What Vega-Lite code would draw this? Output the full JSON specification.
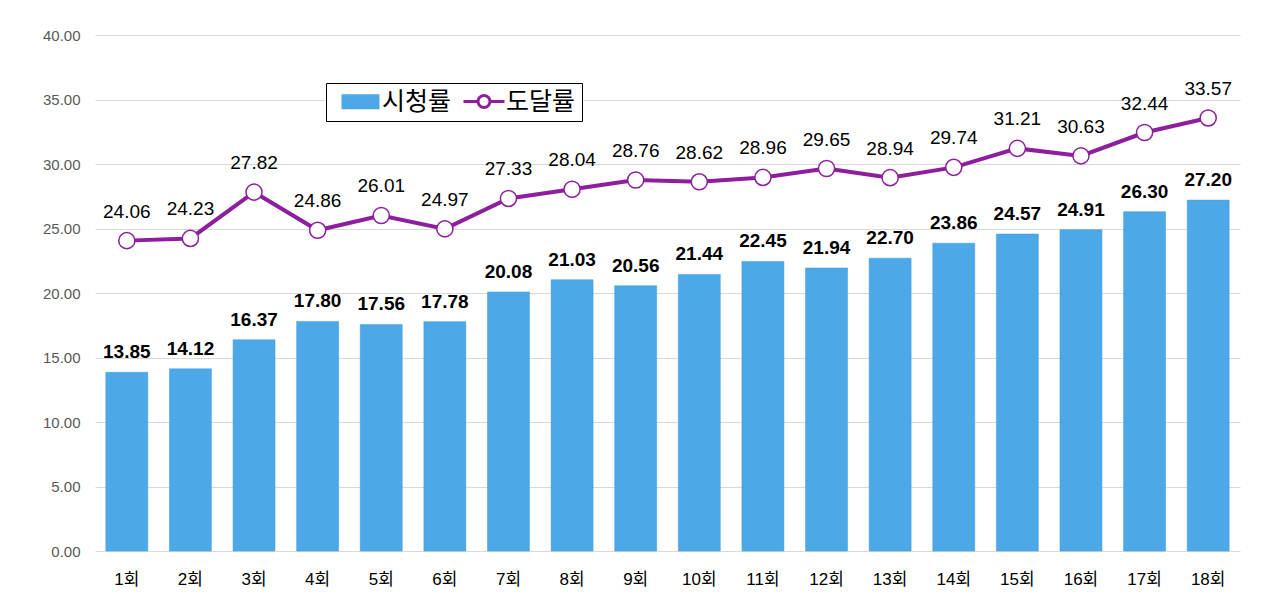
{
  "$schema": "https://vega.github.io/schema/vega-lite/v6.json",
  "autosize": {"type": "none"},
  "width": 1145,
  "height": 516,
  "padding": {"left": 95, "top": 35, "right": 40, "bottom": 65},
  "background": "white",
  "config": {
    "view": {"stroke": null},
    "font": "Liberation Sans, Noto Sans CJK KR",
    "axis": {"domain": false, "ticks": false}
  },
  "data": {
    "values": [
      {"round": "1회", "view": 13.85, "reach": 24.06},
      {"round": "2회", "view": 14.12, "reach": 24.23},
      {"round": "3회", "view": 16.37, "reach": 27.82},
      {"round": "4회", "view": 17.80, "reach": 24.86},
      {"round": "5회", "view": 17.56, "reach": 26.01},
      {"round": "6회", "view": 17.78, "reach": 24.97},
      {"round": "7회", "view": 20.08, "reach": 27.33},
      {"round": "8회", "view": 21.03, "reach": 28.04},
      {"round": "9회", "view": 20.56, "reach": 28.76},
      {"round": "10회", "view": 21.44, "reach": 28.62},
      {"round": "11회", "view": 22.45, "reach": 28.96},
      {"round": "12회", "view": 21.94, "reach": 29.65},
      {"round": "13회", "view": 22.70, "reach": 28.94},
      {"round": "14회", "view": 23.86, "reach": 29.74},
      {"round": "15회", "view": 24.57, "reach": 31.21},
      {"round": "16회", "view": 24.91, "reach": 30.63},
      {"round": "17회", "view": 26.30, "reach": 32.44},
      {"round": "18회", "view": 27.20, "reach": 33.57}
    ]
  },
  "encoding": {
    "x": {
      "field": "round",
      "type": "ordinal",
      "sort": null,
      "title": null,
      "scale": {"paddingInner": 0.34, "paddingOuter": 0.17},
      "axis": {"labelAngle": 0, "labelFontSize": 17, "labelColor": "#000000", "labelPadding": 20, "grid": false}
    }
  },
  "layer": [
    {
      "mark": {"type": "bar", "stroke": "#3F9AE0", "strokeWidth": 0.5},
      "encoding": {
        "y": {
          "field": "view",
          "type": "quantitative",
          "title": null,
          "scale": {"domain": [0, 40]},
          "axis": {
            "values": [0, 5, 10, 15, 20, 25, 30, 35, 40],
            "format": ".2f",
            "labelFontSize": 15,
            "labelColor": "#595959",
            "labelPadding": 15,
            "gridColor": "#D9D9D9",
            "gridWidth": 1.2
          }
        },
        "fill": {
          "datum": "시청률",
          "scale": {"domain": ["시청률", "도달률"], "range": ["#4DA8E8", "#FFFFFF"]},
          "legend": {
            "title": null,
            "orient": "none",
            "direction": "horizontal",
            "legendX": 231,
            "legendY": 48,
            "strokeColor": "#000000",
            "fillColor": "#FFFFFF",
            "padding": 6,
            "columnPadding": 4,
            "labelFont": "Noto Sans CJK KR",
            "labelFontSize": 25,
            "labelColor": "#000000",
            "labelOffset": 25,
            "symbolSize": 400,
            "symbolType": "M-0.3,-0.75H3.5V0.75H-0.3Z",
            "symbolStrokeWidth": 0
          }
        }
      }
    },
    {
      "mark": {"type": "text", "baseline": "alphabetic", "dy": -14, "fontSize": 19, "fontWeight": "bold", "color": "#000000"},
      "encoding": {
        "y": {"field": "view", "type": "quantitative"},
        "text": {"field": "view", "type": "quantitative", "format": ".2f"}
      }
    },
    {
      "mark": {"type": "line", "strokeWidth": 4},
      "encoding": {
        "y": {"field": "reach", "type": "quantitative"},
        "stroke": {
          "datum": "도달률",
          "scale": {"range": ["#8E1E9E"]},
          "legend": {
            "title": null,
            "orient": "none",
            "legendX": 351,
            "legendY": 48,
            "strokeColor": null,
            "padding": 6,
            "labelFont": "Noto Sans CJK KR",
            "labelFontSize": 25,
            "labelExpr": "''",
            "labelOffset": 25,
            "symbolSize": 400,
            "symbolType": "M-0.1,0H1.35M2.55,0H4M2.55,0A0.6,0.6 0 1,1 1.35,0A0.6,0.6 0 1,1 2.55,0",
            "symbolFillColor": "#FFFFFF",
            "symbolStrokeWidth": 3
          }
        }
      }
    },
    {
      "mark": {"type": "point", "shape": "circle", "size": 260, "filled": true, "fill": "#FFFFFF", "stroke": "#8E1E9E", "strokeWidth": 1.5, "opacity": 1},
      "encoding": {
        "y": {"field": "reach", "type": "quantitative"}
      }
    },
    {
      "mark": {"type": "text", "baseline": "alphabetic", "dy": -23, "fontSize": 19, "color": "#000000"},
      "encoding": {
        "y": {"field": "reach", "type": "quantitative"},
        "text": {"field": "reach", "type": "quantitative", "format": ".2f"}
      }
    }
  ]
}
